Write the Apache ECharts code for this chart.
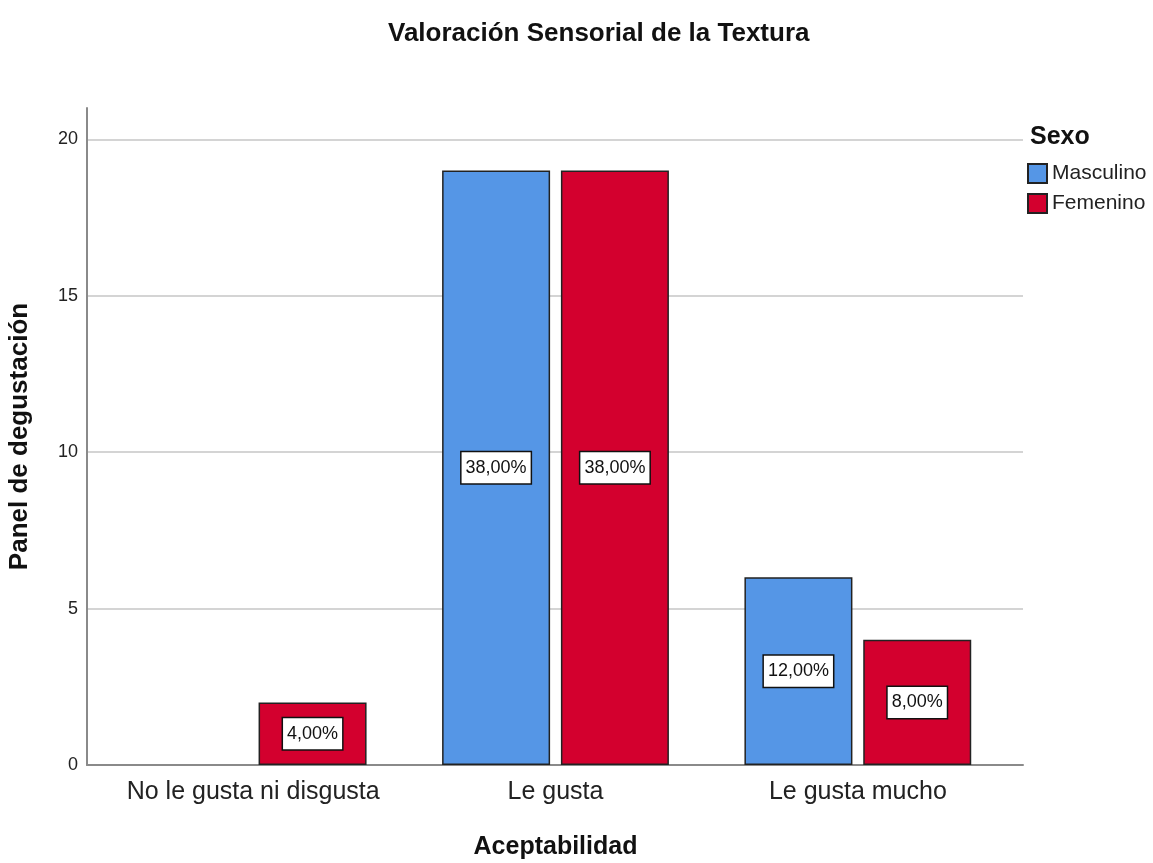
<!DOCTYPE html>
<html>
<head>
<meta charset="utf-8">
<script src="https://cdn.jsdelivr.net/npm/echarts@6/dist/echarts.min.js"></script>
<style>
  html, body { margin: 0; padding: 0; background: #fff; }
  #chart { width: 1153px; height: 863px; }
</style>
</head>
<body>
<div id="chart"></div>
<script>
// data
var categories = ['No le gusta ni disgusta', 'Le gusta', 'Le gusta mucho'];
var masculino = [0, 19, 6];
var femenino = [2, 19, 4];
var masculinoPct = ['', '38,00%', '12,00%'];
var femeninoPct = ['4,00%', '38,00%', '8,00%'];
var yTicks = [0, 5, 10, 15, 20];

var FONT = 'Liberation Sans, Arial, sans-serif';
var chart = echarts.init(document.getElementById('chart'));

function pctLabel(list) {
    return {
        show: true,
        position: 'inside',
        formatter: function (p) { return list[p.dataIndex]; },
        color: '#111',
        fontFamily: FONT,
        fontSize: 18,
        backgroundColor: '#fff',
        borderColor: '#111',
        borderWidth: 1.5,
        padding: [7, 4, 6, 4]
    };
}

// a zero count draws nothing (no sliver, no label)
function barData(values) {
    return values.map(function (v) {
        if (v === 0) {
            return { value: v, itemStyle: { borderWidth: 0, opacity: 0 }, label: { show: false } };
        }
        return v;
    });
}

var option = {
    backgroundColor: '#fff',
    animation: false,
    title: [{
        text: 'Valoración Sensorial de la Textura',
        left: 383,
        top: 16,
        textStyle: { fontFamily: FONT, fontSize: 26, fontWeight: 'bold', color: '#111' }
    }, {
        text: 'Sexo',
        left: 1025,
        top: 120,
        textStyle: { fontFamily: FONT, fontSize: 25, fontWeight: 'bold', color: '#111' }
    }],
    legend: {
        orient: 'vertical',
        left: 1022,
        top: 158,
        itemWidth: 19,
        itemHeight: 19,
        itemGap: 9,
        icon: 'rect',
        textStyle: { fontFamily: FONT, fontSize: 21, color: '#222' },
        data: ['Masculino', 'Femenino']
    },
    grid: [
        { left: 87, right: 130, top: 108, bottom: 98, outerBoundsMode: 'none' },
        { left: 102, right: 144, top: 108, bottom: 98, outerBoundsMode: 'none' }
    ],
    xAxis: [{
        gridIndex: 0,
        type: 'value',
        min: 0,
        max: 1,
        axisLine: { show: true, onZero: false, lineStyle: { color: '#8a8a8a', width: 2 } },
        axisTick: { show: false },
        axisLabel: { show: false },
        splitLine: { show: false }
    }, {
        gridIndex: 1,
        type: 'category',
        data: categories,
        axisLine: { show: false },
        axisTick: { show: false },
        axisLabel: { fontFamily: FONT, fontSize: 25, color: '#222', margin: 15, interval: 0, hideOverlap: false },
        name: 'Aceptabilidad',
        nameLocation: 'middle',
        nameGap: 70,
        nameTextStyle: { fontFamily: FONT, fontSize: 25, fontWeight: 'bold', color: '#111' }
    }],
    yAxis: [{
        gridIndex: 0,
        type: 'value',
        min: 0,
        max: 21,
        interval: 5,
        axisLine: { show: true, lineStyle: { color: '#8a8a8a', width: 2 } },
        axisTick: { show: false },
        axisLabel: {
            fontFamily: FONT, fontSize: 18, color: '#222', margin: 9,
            showMaxLabel: false,
            formatter: function (v) { return yTicks.indexOf(v) >= 0 ? String(v) : ''; }
        },
        splitLine: { show: true, showMaxLine: false, lineStyle: { color: '#d4d4d4', width: 2 } },
        name: 'Panel de degustación',
        nameLocation: 'middle',
        nameGap: 54,
        nameTextStyle: { fontFamily: FONT, fontSize: 26, fontWeight: 'bold', color: '#111' }
    }, {
        gridIndex: 1,
        type: 'value',
        min: 0,
        max: 21,
        interval: 5,
        show: false
    }],
    series: [{
        name: 'Masculino',
        type: 'bar',
        xAxisIndex: 1,
        yAxisIndex: 1,
        barWidth: 108,
        barGap: '10%',
        data: barData(masculino),
        itemStyle: { color: '#5596e6', borderColor: '#222', borderWidth: 1.5 },
        label: pctLabel(masculinoPct)
    }, {
        name: 'Femenino',
        type: 'bar',
        xAxisIndex: 1,
        yAxisIndex: 1,
        barWidth: 108,
        barGap: '10%',
        data: barData(femenino),
        itemStyle: { color: '#d3002e', borderColor: '#222', borderWidth: 1.5 },
        label: pctLabel(femeninoPct)
    }]
};

chart.setOption(option);
</script>
</body>
</html>
